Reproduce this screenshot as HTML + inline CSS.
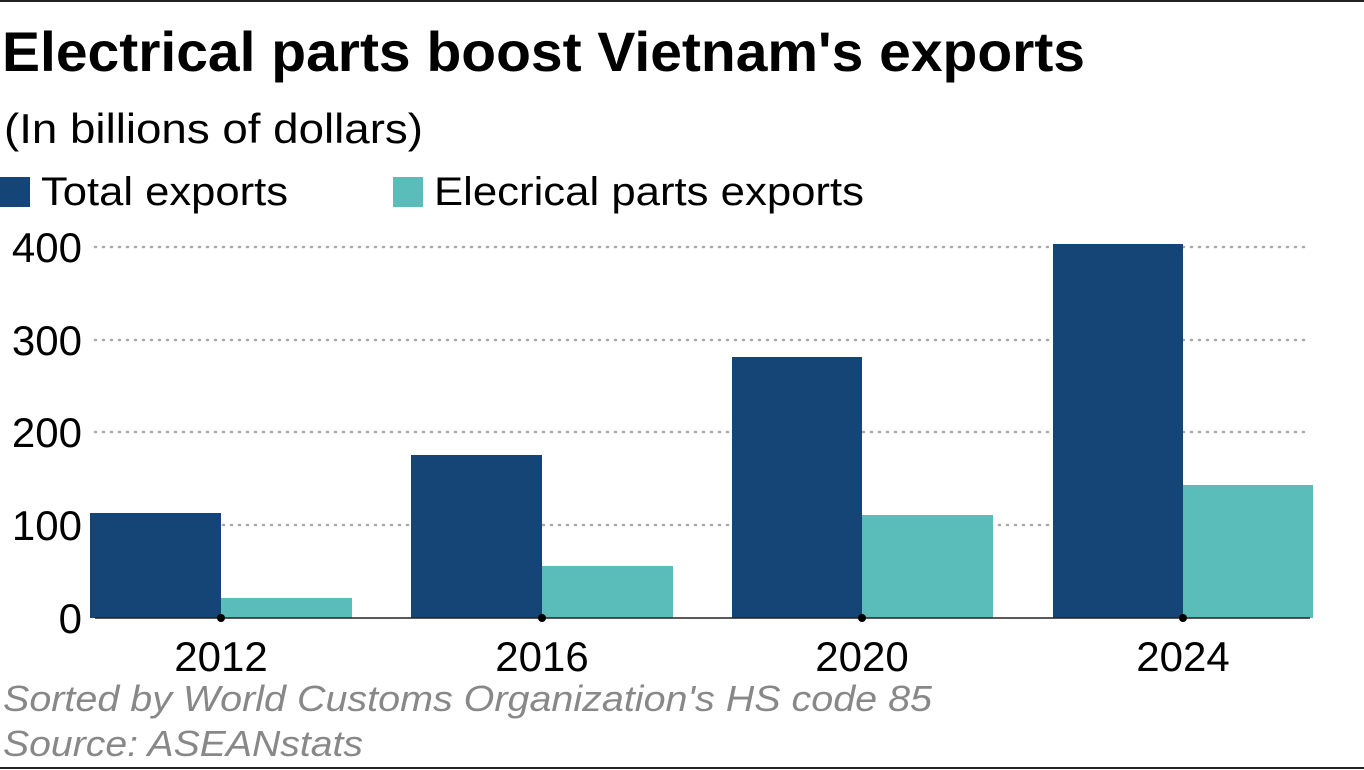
<!DOCTYPE html>
<html><head><meta charset="utf-8"><style>
html,body{margin:0;padding:0;background:#fff;}
svg{display:block;font-family:"Liberation Sans",Arial,sans-serif;}
</style></head><body>
<svg width="1364" height="770" viewBox="0 0 1364 770">
<rect x="0" y="0" width="1364" height="770" fill="#fff"/>
<line x1="0" y1="1" x2="1364" y2="1" stroke="#222" stroke-width="2"/>
<line x1="0" y1="768" x2="1364" y2="768" stroke="#222" stroke-width="2"/>
<text x="2" y="71" font-size="56" font-weight="bold" fill="#000" textLength="1083" lengthAdjust="spacingAndGlyphs">Electrical parts boost Vietnam's exports</text>
<text x="4" y="143" font-size="42" fill="#000" textLength="419" lengthAdjust="spacingAndGlyphs">(In billions of dollars)</text>
<rect x="0" y="177" width="30" height="30" fill="#154576"/>
<text x="41" y="205" font-size="40" fill="#000" textLength="247" lengthAdjust="spacingAndGlyphs">Total exports</text>
<rect x="393" y="177" width="30" height="30" fill="#5bbdb9"/>
<text x="434" y="205" font-size="40" fill="#000" textLength="430" lengthAdjust="spacingAndGlyphs">Elecrical parts exports</text>
<g stroke="#aaa" stroke-width="2.5" stroke-dasharray="1 7" stroke-linecap="round">
<line x1="95" y1="247" x2="1310" y2="247"/>
<line x1="95" y1="340" x2="1310" y2="340"/>
<line x1="95" y1="432" x2="1310" y2="432"/>
<line x1="95" y1="525" x2="1310" y2="525"/>
</g>
<g font-size="42" fill="#000" text-anchor="end">
<text x="82" y="262">400</text>
<text x="82" y="355">300</text>
<text x="82" y="447">200</text>
<text x="82" y="540">100</text>
<text x="82" y="633">0</text>
</g>
<g fill="#154576">
<rect x="90" y="513" width="131" height="105"/>
<rect x="411" y="455" width="131" height="163"/>
<rect x="732" y="357" width="130" height="261"/>
<rect x="1053" y="244" width="130" height="374"/>
</g>
<g fill="#5bbdb9">
<rect x="221" y="598" width="131" height="20"/>
<rect x="542" y="566" width="131" height="52"/>
<rect x="862" y="515" width="131" height="103"/>
<rect x="1183" y="485" width="130" height="133"/>
</g>
<line x1="95" y1="618" x2="1310" y2="618" stroke="#222" stroke-width="1.5"/>
<g fill="#000">
<circle cx="221" cy="618" r="4"/><circle cx="542" cy="618" r="4"/><circle cx="862" cy="618" r="4"/><circle cx="1183" cy="618" r="4"/>
</g>
<g font-size="42" fill="#000" text-anchor="middle">
<text x="221" y="671">2012</text><text x="542" y="671">2016</text><text x="862" y="671">2020</text><text x="1183" y="671">2024</text>
</g>
<text x="3" y="711" font-size="36" font-style="italic" fill="#888" textLength="929" lengthAdjust="spacingAndGlyphs">Sorted by World Customs Organization's HS code 85</text>
<text x="3" y="756" font-size="36" font-style="italic" fill="#888" textLength="360" lengthAdjust="spacingAndGlyphs">Source: ASEANstats</text>
</svg>
</body></html>
